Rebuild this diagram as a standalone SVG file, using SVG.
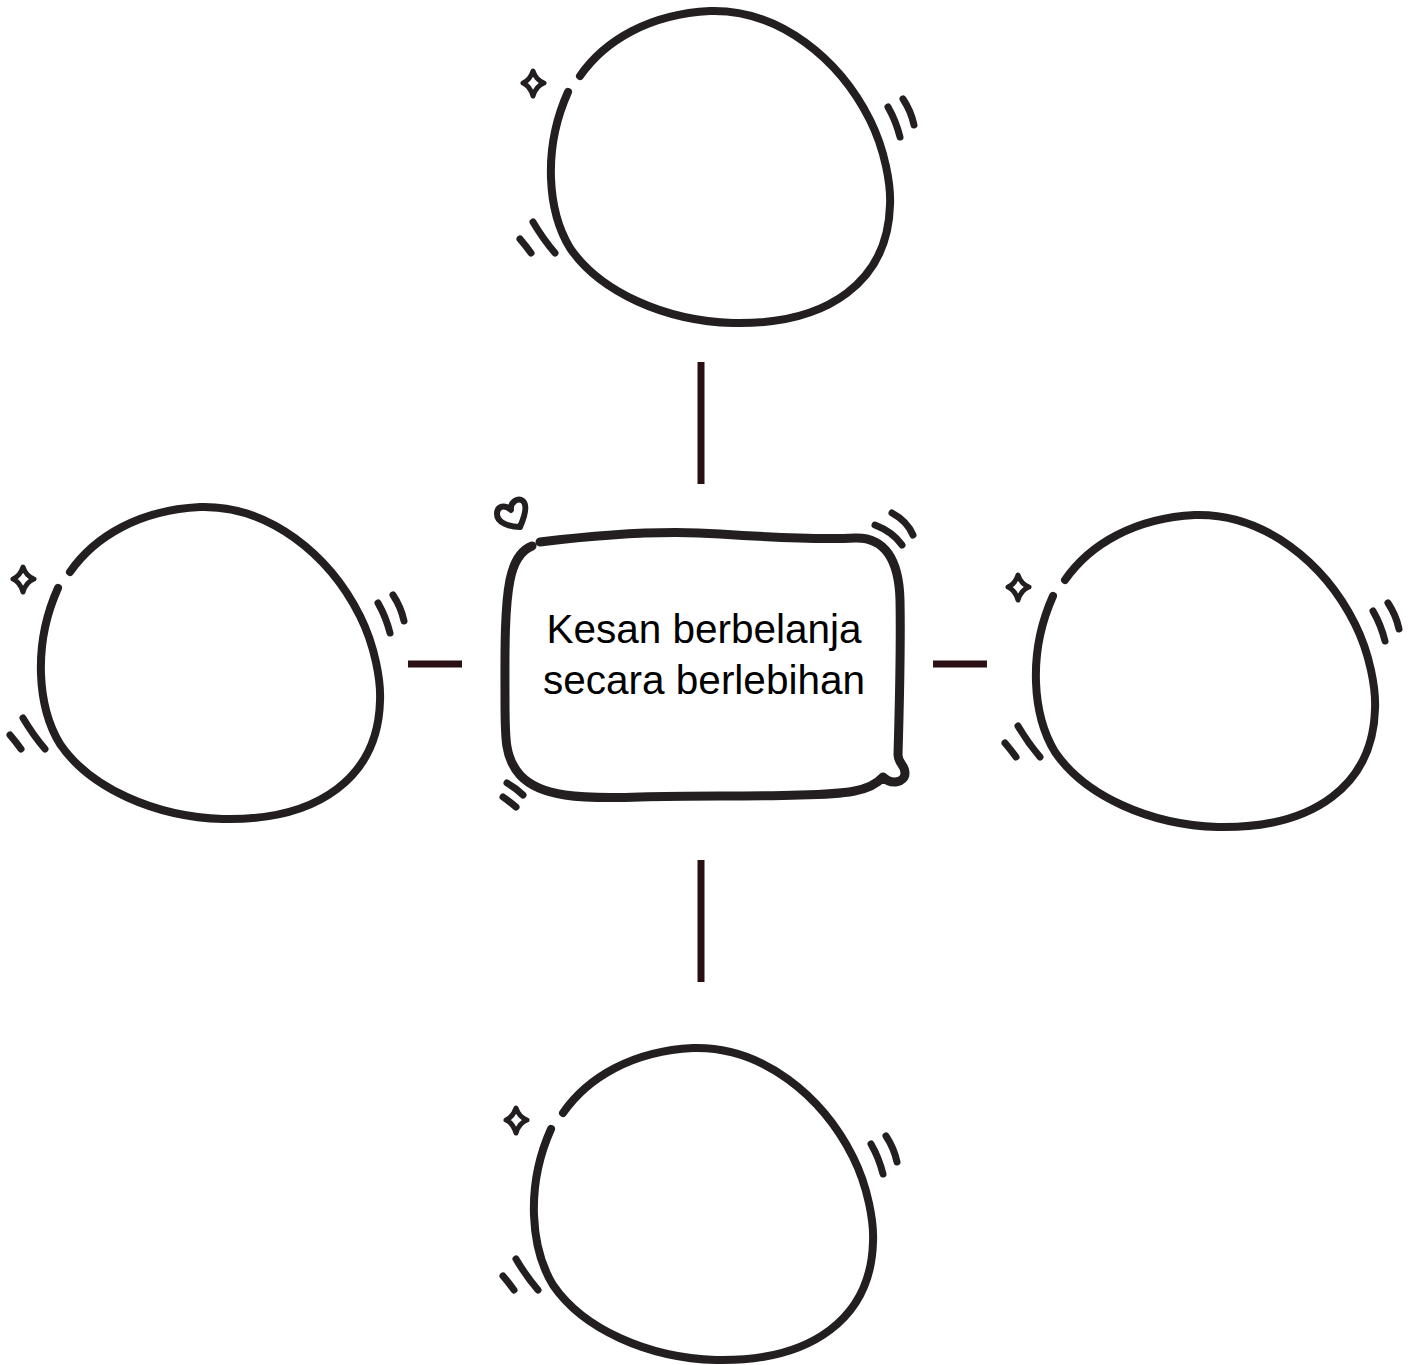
<svg xmlns="http://www.w3.org/2000/svg" xmlns:xlink="http://www.w3.org/1999/xlink" width="1413" height="1365" viewBox="0 0 1413 1365">
  <style>
    .ink { fill: none; stroke: #231f20; stroke-linecap: round; stroke-linejoin: round; }
    .outline { stroke-width: 8; }
    .box { stroke-width: 9; }
    .tick { stroke-width: 7; }
    .spark { stroke-width: 5; }
    .heart { stroke-width: 6; }
    .link { stroke: #2a1013; stroke-width: 7; stroke-linecap: butt; fill: none; }
    .label { font-family: "Liberation Sans", Arial, sans-serif; font-size: 40.5px; fill: #000; text-anchor: middle; }
  </style>
  <defs>
    <!-- hand-drawn round bubble with sparkle and motion ticks -->
    <g id="bubble">
      <path class="ink outline" d="M580,76 C605,40 650,14 710,11 C780,9 840,60 870,120 C885,150 891,185 890,205 C888,280 830,325 733,323 C665,321 600,292 570,248 C548,212 542,150 568,92"/>
      <path class="ink spark" d="M533,71 Q536,80 544,83 Q536,86 533,96 Q530,86 523,83 Q530,80 533,71 Z"/>
      <path class="ink tick" d="M888,107 Q896,121 900,137"/>
      <path class="ink tick" d="M903,99 Q911,111 914,125"/>
      <path class="ink tick" d="M533,222 Q543,239 555,253"/>
      <path class="ink tick" d="M520,239 Q526,246 531,253"/>
    </g>
  </defs>
  <rect width="1413" height="1365" fill="#fff"/>

  <g id="connectors">
    <line class="link" x1="701" y1="362" x2="701" y2="484"/>
    <line class="link" x1="701" y1="860" x2="701" y2="982"/>
    <line class="link" x1="408" y1="664" x2="462" y2="664"/>
    <line class="link" x1="933" y1="664" x2="987" y2="664"/>
  </g>

  <g id="node-top">
    <use xlink:href="#bubble" href="#bubble"/>
  </g>
  <g id="node-left">
    <use xlink:href="#bubble" href="#bubble" transform="translate(-510,496)"/>
  </g>
  <g id="node-right">
    <use xlink:href="#bubble" href="#bubble" transform="translate(485,504)"/>
  </g>
  <g id="node-bottom">
    <use xlink:href="#bubble" href="#bubble" transform="translate(-17,1037)"/>
  </g>

  <g id="node-center">
    <path class="ink box" d="M540,542 C620,532 680,531 720,534 C780,538 820,540 855,538 C885,537 899,560 900,600 C901,650 899,720 898,755 C898,763 905,765 905,773 C905,783 891,785 883,777 C870,792 845,794 800,795 C740,797 700,795 640,797 C580,799 540,797 520,775 C505,758 505,740 505,700 C505,660 504,610 510,580 C514,560 522,550 532,546"/>
    <path class="ink heart" d="M520,527 C510,527 497,523 497,514 C497,506 505,504 511,510 C510,502 518,497 523,501 C528,506 524,518 520,527"/>
    <path class="ink tick" d="M875,525 Q893,532 902,545"/>
    <path class="ink tick" d="M892,513 Q907,521 913,535"/>
    <path class="ink tick" d="M507,783 Q516,788 523,795"/>
    <path class="ink tick" d="M503,797 Q510,802 516,807"/>
    <text class="label" x="704" y="643">Kesan berbelanja</text>
    <text class="label" x="704" y="694">secara berlebihan</text>
  </g>
</svg>
